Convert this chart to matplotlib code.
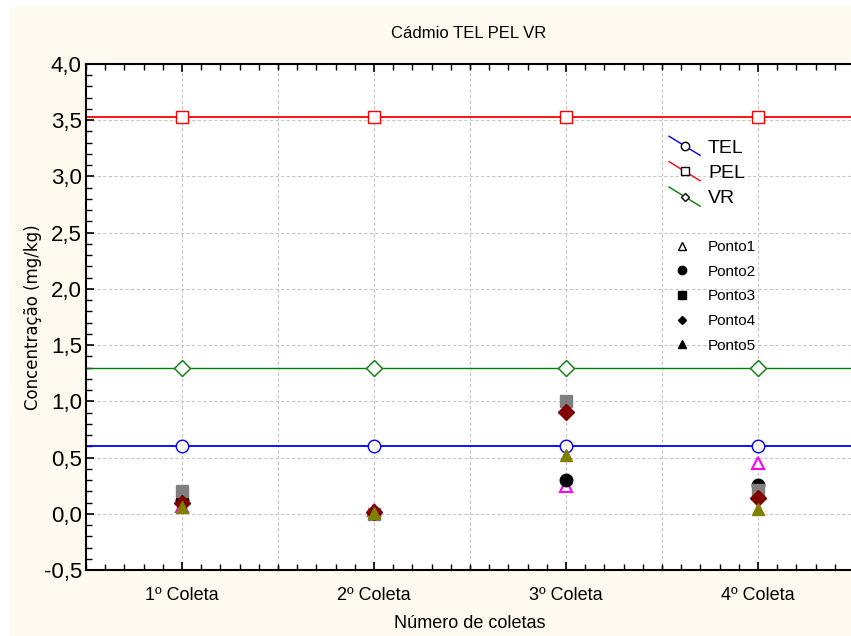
import matplotlib
matplotlib.use("Agg")
import matplotlib.pyplot as plt
from matplotlib.lines import Line2D
from matplotlib.legend_handler import HandlerBase
from matplotlib.patches import Rectangle
from matplotlib.ticker import MultipleLocator, FuncFormatter

# ---- data ----
categories = ["1º Coleta", "2º Coleta", "3º Coleta", "4º Coleta"]
tel = [0.6, 0.6, 0.6, 0.6]
pel = [3.53, 3.53, 3.53, 3.53]
vr = [1.3, 1.3, 1.3, 1.3]
ponto1 = [0.07, 0.03, 0.25, 0.45]
ponto2 = [0.12, 0.01, 0.30, 0.26]
ponto3 = [0.20, 0.00, 1.00, 0.21]
ponto4 = [0.10, 0.02, 0.905, 0.14]
ponto5 = [0.06, 0.01, 0.525, 0.045]
title = "Cádmio TEL PEL VR"
xlabel = "Número de coletas"
ylabel = "Concentração (mg/kg)"

FONT = ["Liberation Sans Narrow", "Liberation Sans", "DejaVu Sans"]
plt.rcParams["font.family"] = FONT

W, H = 851, 636
fig = plt.figure(figsize=(W / 100, H / 100), dpi=100)
fig.patch.set_facecolor("white")
fig.add_artist(Rectangle((10 / W, 0), 1, 1 - 7 / H, transform=fig.transFigure,
                         facecolor="#FFFAF0", edgecolor="none", zorder=-10))

left, right, top, bottom = 86, 854, 64, 570
ax = fig.add_axes([left / W, 1 - bottom / H, (right - left) / W, (bottom - top) / H])
ax.set_facecolor("white")

x = list(range(1, len(categories) + 1))

ax.axhline(tel[0], color="blue", lw=1.3, zorder=2)
ax.axhline(pel[0], color="red", lw=1.3, zorder=2)
ax.axhline(vr[0], color="green", lw=1.0, zorder=2)
ax.plot(x, tel, ls="none", marker="o", ms=9, mfc="white", mec="blue", mew=1.0, zorder=3)
ax.plot(x, pel, ls="none", marker="s", ms=9, mfc="white", mec="red", mew=1.0, zorder=3)
ax.plot(x, vr, ls="none", marker="D", ms=8, mfc="white", mec="green", mew=1.0, zorder=3)

ax.plot(x, ponto1, ls="none", marker="^", ms=9, mfc="white", mec="magenta", mew=1.5, zorder=4)
ax.plot(x, ponto2, ls="none", marker="o", ms=9, color="black", zorder=4)
ax.plot(x, ponto3, ls="none", marker="s", ms=9, color="gray", zorder=5)
ax.plot(x, ponto4, ls="none", marker="D", ms=8, color="#800000", zorder=6)
ax.plot(x, ponto5, ls="none", marker="^", ms=9, color="#808000", zorder=7)

ax.set_xlim(0.5, 4.5)
ax.set_ylim(-0.5, 4.0)
ax.set_xticks(x)
ax.set_xticklabels(categories)
ax.xaxis.set_minor_locator(MultipleLocator(0.1))
ax.yaxis.set_major_locator(MultipleLocator(0.5))
ax.yaxis.set_minor_locator(MultipleLocator(0.1))
ax.yaxis.set_major_formatter(FuncFormatter(lambda v, p: f"{v:.1f}".replace(".", ",")))

# grid at every 0.5 on x and every 0.5 on y
for gx in [1.5, 2.5, 3.5]:
    ax.axvline(gx, color="#c8c8c8", ls=(0, (3, 2)), lw=0.8, zorder=0)
    ax.plot([gx, gx], [3.96, 4.0], color="black", lw=1.0, zorder=8, clip_on=False)
    ax.plot([gx, gx], [-0.5, -0.46], color="black", lw=1.0, zorder=8, clip_on=False)
ax.grid(True, which="major", color="#c8c8c8", ls=(0, (3, 2)), lw=0.8, zorder=0)

ax.tick_params(which="both", direction="in", top=True, right=False, color="black")
ax.tick_params(which="major", length=6, width=1.2, labelsize=13, pad=12)
ax.tick_params(axis="y", which="major", labelsize=16, pad=3)
ax.tick_params(which="minor", length=4, width=1.0)
for s in ["left", "bottom", "top"]:
    ax.spines[s].set_linewidth(1.5)
ax.spines["right"].set_visible(False)

ax.set_xlabel(xlabel, fontsize=13, labelpad=8)
ax.set_ylabel(ylabel, fontsize=12, family="DejaVu Sans", labelpad=1)
fig.text((left + 851) / 2 / W, 1 - 33 / H, title, ha="center", va="center", fontsize=12)


class DiagHandler(HandlerBase):
    def __init__(self, color, marker, ms):
        super().__init__()
        self.color, self.marker, self.ms = color, marker, ms

    def create_artists(self, legend, orig_handle, xd, yd, width, height, fontsize, trans):
        x0, y0 = -xd, -yd
        x1, y1 = x0 + width, y0 + height
        xm, ym = (x0 + x1) / 2, (y0 + y1) / 2
        l1 = Line2D([x0, xm], [y1 + 2, ym], color=self.color, lw=1.0, transform=trans)
        l2 = Line2D([xm, x1], [ym, y0 - 2], color=self.color, lw=1.0, transform=trans)
        m = Line2D([xm], [ym], marker=self.marker, ms=self.ms, mfc="white", mec="black",
                   mew=1.0, ls="none", transform=trans)
        return [l1, l2, m]


h_tel = Line2D([], [], color="blue")
h_pel = Line2D([], [], color="red")
h_vr = Line2D([], [], color="green")
leg1 = ax.legend([h_tel, h_pel, h_vr], ["TEL", "PEL", "VR"],
                 handler_map={h_tel: DiagHandler("blue", "o", 6),
                              h_pel: DiagHandler("red", "s", 6),
                              h_vr: DiagHandler("green", "D", 4.5)},
                 loc="upper left", bbox_to_anchor=((669 - left) / (right - left), 1 - (139 - top) / (bottom - top)),
                 frameon=False, fontsize=14, handlelength=1.6, handletextpad=0.4,
                 labelspacing=0.4, borderpad=0, borderaxespad=0)
ax.add_artist(leg1)

p_handles = [
    Line2D([], [], ls="none", marker="^", ms=6, mfc="white", mec="black", mew=1.0),
    Line2D([], [], ls="none", marker="o", ms=6, color="black"),
    Line2D([], [], ls="none", marker="s", ms=6, color="black"),
    Line2D([], [], ls="none", marker="D", ms=4.5, color="black"),
    Line2D([], [], ls="none", marker="^", ms=6, color="black"),
]
ax.legend(p_handles, ["Ponto1", "Ponto2", "Ponto3", "Ponto4", "Ponto5"],
          loc="upper left", bbox_to_anchor=((674 - left) / (right - left), 1 - (240 - top) / (bottom - top)),
          frameon=False, fontsize=11, handlelength=1.0, handletextpad=1.2,
          labelspacing=0.7, borderpad=0, borderaxespad=0)

fig.savefig("out.png", dpi=100, facecolor=fig.get_facecolor())
